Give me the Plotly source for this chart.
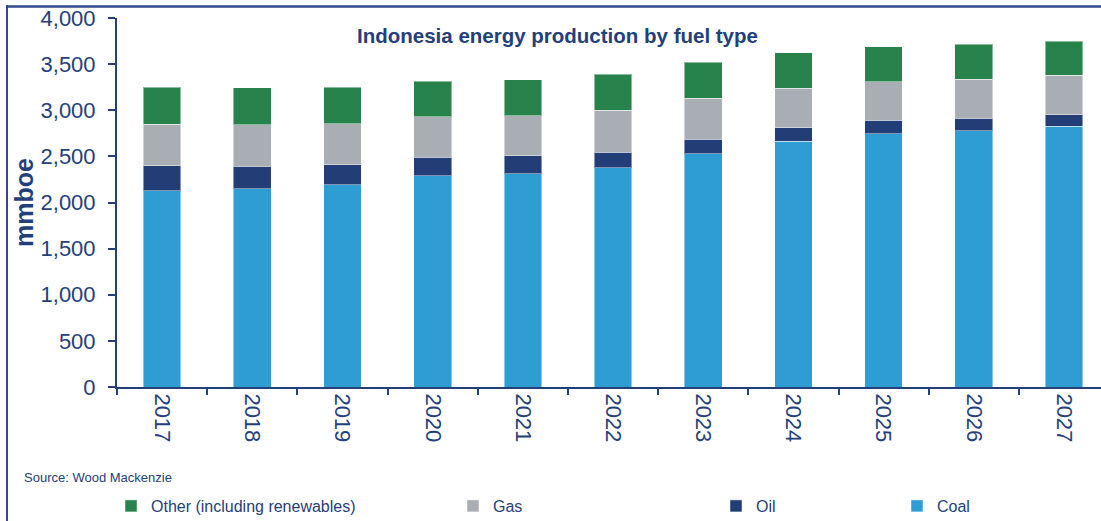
import plotly.graph_objects as go

years = ["2017", "2018", "2019", "2020", "2021", "2022", "2023", "2024", "2025", "2026", "2027"]
coal = [2129, 2150, 2190, 2288, 2313, 2378, 2530, 2665, 2744, 2780, 2828]
oil = [271, 243, 221, 203, 192, 167, 156, 148, 145, 135, 123]
gas = [446, 449, 442, 438, 435, 457, 446, 423, 420, 423, 426]
other = [406, 402, 394, 388, 391, 391, 387, 385, 377, 376, 370]

DARK = "#24407A"
FONT = "Liberation Sans, Arial, sans-serif"

series = [
    ("Coal", coal, "#2E9DD4", "legend5"),
    ("Oil", oil, "#233D77", "legend4"),
    ("Gas", gas, "#A9AEB5", "legend3"),
    ("Other (including renewables)", other, "#27834B", "legend2"),
]

fig = go.Figure()
for name, vals, color, leg in series:
    fig.add_trace(go.Bar(
        x=years, y=vals, name=name, legend=leg, showlegend=True,
        marker=dict(color=color, line=dict(color="rgba(255,255,255,0.45)", width=1)),
        width=0.418,
    ))

L, R, T, B = 117, 0, 18, 134
W, H = 1101, 521
pw = W - L - R
ph = H - T - B

def px_x(p):
    return (p - L) / pw

def px_y(p):
    return (H - B - p) / ph

def cx(p):
    return p / W

def cy(p):
    return 1 - p / H

leg_common = dict(orientation="h", yanchor="middle", xanchor="left",
                  xref="container", yref="container",
                  font=dict(family=FONT, size=16, color=DARK),
                  bgcolor="rgba(0,0,0,0)", itemclick=False, itemdoubleclick=False)

fig.update_layout(
    width=W, height=H,
    showlegend=True,
    margin=dict(l=L, r=R, t=T, b=B, pad=0, autoexpand=False),
    plot_bgcolor="white", paper_bgcolor="white",
    barmode="stack",
    font=dict(family=FONT, color=DARK),
    legend2=dict(x=cx(111), y=cy(506), **leg_common),
    legend3=dict(x=cx(453), y=cy(506), **leg_common),
    legend4=dict(x=cx(716), y=cy(506), **leg_common),
    legend5=dict(x=cx(897), y=cy(506), **leg_common),
    xaxis=dict(
        type="category", range=[-0.5, 10.41], automargin=False,
        showline=True, linecolor=DARK, linewidth=2,
        ticks="outside", tickson="boundaries", ticklen=6, tickcolor=DARK, tickwidth=2,
        tickangle=90, tickfont=dict(family=FONT, size=22, color=DARK),
        showgrid=False,
    ),
    yaxis=dict(
        range=[0, 4000], dtick=500, tickformat=",", automargin=False,
        showline=True, linecolor=DARK, linewidth=2,
        ticks="outside", ticklen=7, tickcolor=DARK, tickwidth=2,
        tickfont=dict(family=FONT, size=22, color=DARK),
        ticklabelstandoff=8,
        showgrid=False, zeroline=False,
        title=dict(text="<b>mmboe</b>", font=dict(family=FONT, size=25, color=DARK), standoff=0),
    ),
    annotations=[
        dict(text="<b>Indonesia energy production by fuel type</b>", xref="paper", yref="paper",
             x=px_x(557), y=px_y(35), xanchor="center", yanchor="middle", showarrow=False,
             font=dict(family=FONT, size=20.5, color=DARK)),
        dict(text="Source: Wood Mackenzie", xref="paper", yref="paper",
             x=px_x(22), y=px_y(477), xanchor="left", yanchor="middle", showarrow=False,
             font=dict(family=FONT, size=13, color=DARK)),
    ],
    shapes=[
        dict(type="line", xref="paper", yref="paper", x0=px_x(7), x1=px_x(7), y0=px_y(5), y1=px_y(521),
             line=dict(color="#2F4A8A", width=2), layer="above"),
        dict(type="line", xref="paper", yref="paper", x0=px_x(6), x1=px_x(1101), y0=px_y(6.5), y1=px_y(6.5),
             line=dict(color="#2F4A8A", width=2.5), layer="above"),
    ],
)

fig.write_html("out.html", config={"displayModeBar": False},
               post_script="document.body.style.margin='0';document.body.style.overflow='hidden';")
